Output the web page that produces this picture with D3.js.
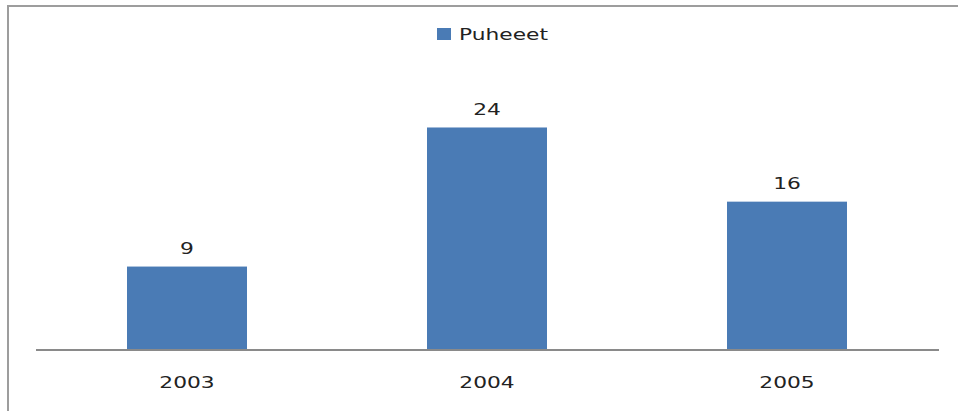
<!DOCTYPE html>
<html>
<head>
  <title>Puheeet</title>
  <script src="https://cdn.jsdelivr.net/npm/d3@7"></script>
  <style>
    body { margin: 0; background: #fff; }
    svg text { font-family: "DejaVu Sans", Verdana, sans-serif; fill: #222; }
  </style>
</head>
<body>
  <div id="myChart"></div>
  <script>
    // data
    const years = ["2003", "2004", "2005"];
    const puheeet = [9, 24, 16];
    const seriesName = "Puheeet";

    const width = 958;
    const height = 411;
    const stretch = 1.36; // text in the original looks stretched sideways

    const svg = d3.select("#myChart").append("svg")
        .attr("width", width)
        .attr("height", height);

    // outer frame (only top and left edges visible)
    svg.append("rect")
        .attr("x", 8).attr("y", 6)
        .attr("width", 1000).attr("height", 500)
        .attr("fill", "none")
        .attr("stroke", "#9d9d9d")
        .attr("stroke-width", 2);

    const x = d3.scaleBand()
        .domain(years)
        .range([37, 937])
        .paddingInner(0.6)
        .paddingOuter(0.3);

    const y = d3.scaleLinear()
        .domain([0, 28])
        .range([350, 90.4]);

    const data = years.map((yr, i) => ({ year: yr, value: puheeet[i] }));

    // bars
    svg.selectAll(".bar")
        .data(data)
        .enter().append("rect")
        .attr("class", "bar")
        .attr("x", d => x(d.year))
        .attr("y", d => y(d.value))
        .attr("width", x.bandwidth())
        .attr("height", d => y(0) - y(d.value))
        .attr("fill", "#4a7bb5");

    // value labels
    svg.selectAll(".val")
        .data(data)
        .enter().append("text")
        .attr("class", "val")
        .attr("text-anchor", "middle")
        .attr("font-size", 16)
        .attr("transform", d => `translate(${x(d.year) + x.bandwidth() / 2},${y(d.value) - 12.5}) scale(${stretch},1)`)
        .text(d => d.value);

    // x axis
    const xAxis = svg.append("g")
        .attr("transform", `translate(0,${y(0)})`)
        .call(d3.axisBottom(x).tickSize(0).tickSizeOuter(0));
    xAxis.select(".domain")
        .attr("d", "M36,0H939")
        .attr("stroke", "#8a8a8a")
        .attr("stroke-width", 2);
    xAxis.selectAll(".tick text")
        .attr("font-size", 16)
        .attr("font-family", null)
        .attr("fill", "#222")
        .attr("y", 0).attr("dy", null)
        .attr("transform", `translate(0,38) scale(${stretch},1)`);

    // legend
    const legend = svg.append("g");
    legend.append("rect")
        .attr("x", 437).attr("y", 28)
        .attr("width", 14).attr("height", 12)
        .attr("fill", "#4a7bb5");
    legend.append("text")
        .attr("font-size", 16)
        .attr("transform", `translate(459,40) scale(${stretch},1)`)
        .text(seriesName);
  </script>
</body>
</html>
